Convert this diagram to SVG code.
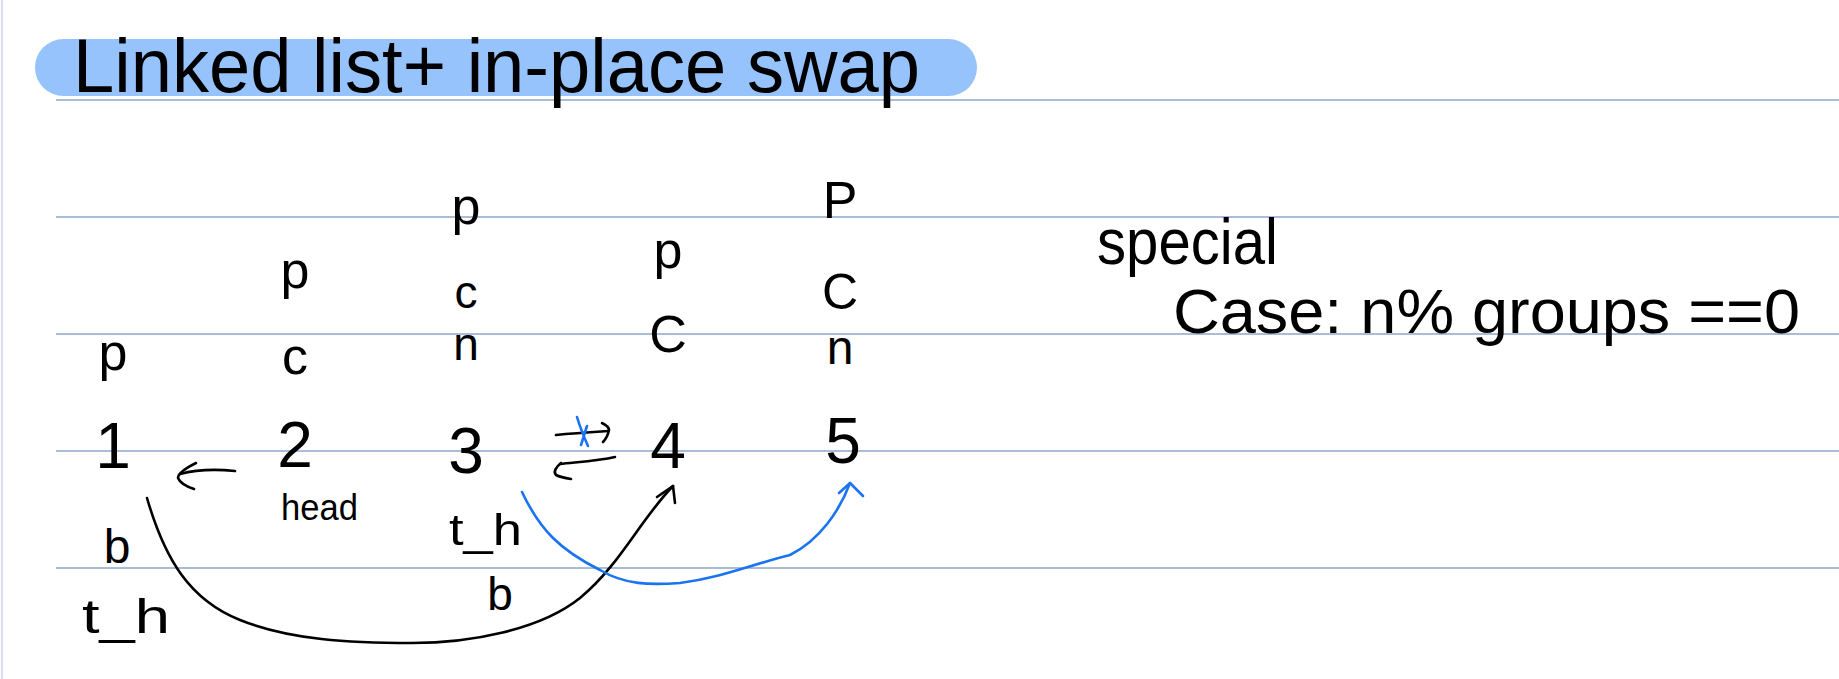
<svg xmlns="http://www.w3.org/2000/svg" width="1839" height="679" viewBox="0 0 1839 679">
<style>
.rule{stroke:#a9bcd8;stroke-width:2;fill:none}
.t{font-family:"Liberation Sans",Arial,sans-serif;fill:#000}
.l{font-size:52px;text-anchor:middle}
.d{font-size:64px;text-anchor:middle}
.ink{stroke:#000;stroke-width:2.6;fill:none;stroke-linecap:round;stroke-linejoin:round}
.blue{stroke:#1a73f0;stroke-width:2.6;fill:none;stroke-linecap:round;stroke-linejoin:round}
</style>
<rect width="1839" height="679" fill="#fff"/>
<line x1="2" y1="0" x2="2" y2="679" stroke="#dcdcf2" stroke-width="2"/>
<g id="rules">
<line class="rule" x1="56" y1="100" x2="1839" y2="100"/>
<line class="rule" x1="56" y1="217" x2="1839" y2="217"/>
<line class="rule" x1="56" y1="334" x2="1839" y2="334"/>
<line class="rule" x1="56" y1="451" x2="1839" y2="451"/>
<line class="rule" x1="56" y1="568" x2="1839" y2="568"/>
</g>
<g id="title">
<rect x="35" y="39" width="942" height="57" rx="28.5" fill="#97c3fd"/>
<text class="t" x="73" y="92" font-size="76" textLength="847" lengthAdjust="spacingAndGlyphs">Linked list+ in-place swap</text>
</g>
<g id="node1">
<text class="t l" x="113" y="370">p</text>
<text class="t d" x="113" y="468">1</text>
<text class="t" x="117" y="563" font-size="48" text-anchor="middle">b</text>
<text class="t" x="82" y="633" font-size="48" textLength="88" lengthAdjust="spacingAndGlyphs">t_h</text>
</g>
<g id="node2">
<text class="t l" x="295" y="288">p</text>
<text class="t l" x="295" y="374">c</text>
<text class="t d" x="295" y="467">2</text>
<text class="t" x="281" y="520" font-size="36" textLength="77" lengthAdjust="spacingAndGlyphs">head</text>
</g>
<g id="node3">
<text class="t l" x="466" y="224">p</text>
<text class="t" x="466" y="308" font-size="46" text-anchor="middle">c</text>
<text class="t" x="466" y="360" font-size="46" text-anchor="middle">n</text>
<text class="t d" x="466" y="473">3</text>
<text class="t" x="449" y="545" font-size="44" textLength="73" lengthAdjust="spacingAndGlyphs">t_h</text>
<text class="t" x="500" y="610" font-size="46" text-anchor="middle">b</text>
</g>
<g id="node4">
<text class="t l" x="668" y="268">p</text>
<text class="t l" x="668" y="352">C</text>
<text class="t d" x="668" y="468">4</text>
</g>
<g id="node5">
<text class="t l" x="840" y="218">P</text>
<text class="t" x="840" y="309" font-size="50" text-anchor="middle">C</text>
<text class="t" x="840" y="364" font-size="48" text-anchor="middle">n</text>
<text class="t d" x="843" y="463">5</text>
</g>
<g id="note">
<text class="t" x="1097" y="264" font-size="64" textLength="181" lengthAdjust="spacingAndGlyphs">special</text>
<text class="t" x="1173" y="333" font-size="63" textLength="627" lengthAdjust="spacingAndGlyphs">Case: n% groups ==0</text>
</g>
<g id="connectors">
<path class="ink" d="M235,471 C215,469 195,470 180,474"/>
<path class="ink" d="M196,463 C186,468 178,474 178,478 C180,483 188,487 194,489"/>
<path class="ink" d="M556,435 C575,433 592,432 608,431"/>
<path class="ink" d="M602,423 C606,425 609,428 609,430 C608,435 606,439 603,442"/>
<path class="blue" d="M577,417 C580,427 584,437 588,446 M587,426 C585,432 583,439 581,445"/>
<path class="ink" d="M615,457 C598,461 578,462 560,464"/>
<path class="ink" d="M561,463 C556,467 553,472 556,475 C560,477 565,478 571,479"/>
<path class="ink" d="M147,498 C165,560 190,600 240,620 C290,640 350,643 412,643 C470,643 540,630 580,598 C620,565 640,520 673,486"/>
<path class="ink" d="M657,497 L673,486 L675,503"/>
<path class="blue" d="M522,492 C540,530 560,550 600,570 C625,585 650,585 680,583 C720,578 750,565 790,555 C820,540 840,510 850,483"/>
<path class="blue" d="M839,493 L850,483 L863,496"/>
</g>
</svg>
